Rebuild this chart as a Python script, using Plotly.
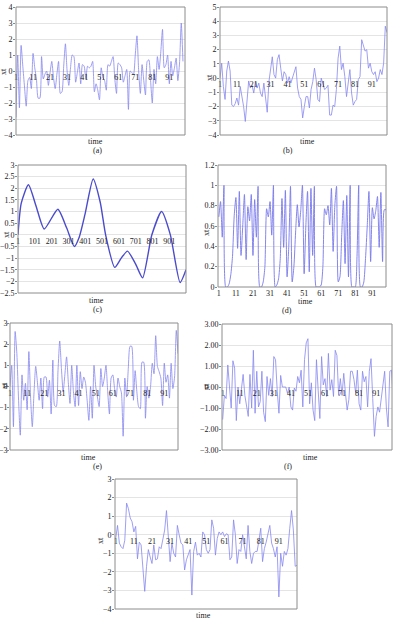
import plotly.graph_objects as go

W, H = 394, 620
FONT = "Liberation Serif, Times New Roman, serif"

# ---------------- data ----------------
A_VALUES = [
    -2.9, 1.0, -2.3, 1.6, 0.3, -1.0, -2.2, -0.6, -0.4,
    -1.1, 1.1, 0.2, -0.5, -1.7, -1.7, 0.9, -0.5, -0.2, 0.0,
    -0.9, -0.1, 0.6, -0.4, -1.1, -0.2, 0.6, -1.4, -1.3, 0.3,
    1.7, 0.0, -0.9, 0.2, 1.0, 0.9, -0.7, -0.1, 0.5, -0.8,
    0.4, 0.3, -0.5, 0.3, 0.2, 0.3, 0.6, -1.3, -0.8, -1.2,
    -1.8, 0.2, -0.4, -0.6, -1.2, 0.4, 0.3, 0.6, 0.9, -0.5,
    -1.4, 0.5, 0.4, 0.2, -0.7, -0.3, 0.1, -2.4, 0.0, -0.1,
    -0.2, 1.0, 2.2, 0.0, -1.4, 0.4, -0.6, -1.5, 0.6, 0.7,
    -0.6, -2.0, 0.1, -0.8, 0.9, 0.1, 1.2, 2.6, 0.2, 0.4,
    1.0, -0.8, 0.6, -0.3, 0.2, 0.8, -0.6, 0.5, 3.0, 0.6,
]
B_VALUES = [
    0.0, 1.05, -0.6, -1.5, 0.5, 1.2, 0.5, -1.9, -2.0, -1.8,
    -1.4, -1.9, -0.6, -1.3, -2.0, -3.05, -1.3, -0.2, -0.7, -0.5,
    -1.05, -0.25, -0.7, -0.35, -1.05, -1.3, -0.35, -1.4, -2.4, -0.25,
    0.6, 1.5, 0.25, 0.0, 1.3, 1.65, 0.7, -0.2, 0.45, 0.25,
    -0.35, 0.1, -0.35, 0.1, 0.5, 0.8, -0.7, -1.3, -1.5, -2.8,
    -2.0, -1.3, -1.3, -2.1, -0.8, -0.25, 0.7, -0.1, -1.5, -1.65,
    0.0, -0.5, -0.8, -0.7, -0.5, -2.6, -2.6, -1.9, -2.0, -0.8,
    1.4, 2.25, 0.6, 1.05, 0.1, -1.3, -0.5, 0.6, -1.05, -1.9,
    -1.65, -1.5, -0.1, 0.1, 2.7, 2.25, 1.9, 2.0, 0.7, 1.05,
    0.45, 0.25, 0.45, -0.25, 0.0, 0.6, 0.25, 1.05, 3.65, 3.2,
]
C_TIME = [1, 20, 63, 110, 157, 238, 290, 336, 365, 400, 448, 490, 522,
          576, 615, 652, 700, 742, 797, 855, 907, 965, 1000]
C_VALUES = [0.0, 1.35, 2.15, 1.2, 0.25, 1.1, 0.3, -0.5, -0.1, 0.9, 2.4, 1.4, 0.0,
            -1.4, -1.0, -0.7, -1.25, -1.85, 0.0, 1.0, 0.0, -2.05, -1.5]
D_VALUES = [
    0.69, 0.84, 0.49, 1.0, 0.0, 0.0, 0.03, 0.12, 0.3, 0.7,
    0.88, 0.38, 0.94, 0.31, 0.6, 0.91, 0.27, 0.79, 0.65, 0.91,
    0.31, 0.86, 0.49, 0.99, 0.0, 0.0, 0.05, 0.2, 0.77, 0.69,
    0.84, 0.51, 1.0, 0.0, 0.02, 0.08, 0.28, 0.87, 0.39, 0.95,
    0.1, 0.4, 0.99, 0.05, 0.2, 0.54, 0.81, 0.59, 0.75, 1.0,
    0.13, 0.6, 0.94, 0.15, 0.97, 0.31, 0.99, 0.0, 0.0, 0.0,
    0.02, 0.2, 0.77, 0.71, 0.8, 0.61, 0.97, 0.35, 0.8, 0.99,
    0.05, 0.1, 0.5, 0.85, 0.23, 0.9, 0.1, 1.0, 0.0, 0.0,
    0.0, 0.3, 1.0, 0.0, 0.0, 0.05, 0.28, 0.6, 0.94, 0.25,
    0.78, 0.67, 0.75, 0.89, 0.39, 0.93, 0.25, 0.76, 0.76,
]
E_VALUES = [
    0.0, 1.0, -1.9, 2.6, 1.55, -0.65, -2.3, 0.55, -0.65, 0.15,
    -1.1, 1.65, -0.5, -1.9, -0.3, 0.95, 0.2, -0.65, 0.4, -1.05,
    0.45, 0.45, -0.5, 0.3, -1.3, 1.25, -0.9, -0.95, 0.75, 2.15,
    0.85, -0.25, 0.55, 1.4, 0.2, -0.8, 1.0, -0.25, -0.95, 1.0,
    -0.9, 0.7, -0.1, 0.45, 0.2, -0.65, -1.6, 0.0, -1.5, 1.0,
    0.0, -0.5, -0.95, 0.85, 0.0, 0.4, 1.0, -0.25, -1.3, 0.4,
    0.55, -0.1, -0.5, 0.4, 0.0, -0.3, -2.35, 0.4, -0.5, 0.85,
    1.9, 1.9, -0.65, 0.75, -0.25, -0.95, -1.05, 1.15, 1.15, -1.5,
    0.0, -0.55, 0.0, 1.1, 0.6, 2.4, 0.95, 0.7, 0.4, -0.9,
    1.1, 0.2, 0.55, -0.55, 1.1, -0.1, 0.45, 2.65, 1.55,
]
F_VALUES = [
    -1.55, -0.4, -0.55, 1.05, 0.0, -1.0, 1.25, 0.9, -1.6, 0.0,
    -0.8, 0.0, 0.6, -0.4, -0.95, -1.4, 0.6, -1.0, 1.75, -1.25,
    0.75, -0.95, -0.7, 0.75, -1.2, -1.65, 0.5, -0.4, 0.4, -0.45,
    1.45, 1.3, -0.2, -1.25, 0.55, 0.0, 0.0, 0.0, -0.3, 0.0,
    -0.95, -1.1, -0.05, -0.2, 0.5, 0.2, 0.8, -0.95, 1.3, 2.1,
    2.3, -0.8, 0.2, -1.1, -1.6, 1.3, -0.15, -1.5, 1.45, 0.1,
    0.4, -0.45, 1.6, -0.15, 0.35, -0.45, 1.75, 1.5, -0.4, 0.4,
    -0.4, 0.65, -0.3, -1.1, -0.6, 0.75, 0.75, 0.35, -0.3, 0.8,
    -0.8, -1.1, 0.75, 0.25, 0.5, -0.95, 0.75, 1.35, -0.55, -2.35,
    -1.4, -0.95, -1.2, -0.6, 0.0, 0.75, -1.0, -1.9, 0.75, 0.8,
    -0.6,
]
G_VALUES = [
    -0.2, 0.5, -0.45, -0.65, -0.75, -0.3, 1.7, 1.4, 0.9, 0.7,
    0.15, 0.45, -1.3, -0.4, -0.55, -1.9, -3.05, -1.7, -0.8, -1.2,
    -1.55, -0.55, -1.35, -1.3, -0.65, -0.75, -0.3, 0.25, 1.3, 0.0,
    -1.45, -0.45, -1.0, -1.2, 0.5, 0.0, -0.45, -0.55, -1.9, -1.35,
    -1.0, -0.8, -3.25, -0.9, -0.4, -1.1, -1.0, -1.2, 0.15, 0.0,
    -0.8, -1.0, -0.8, 0.8, 0.35, -1.1, -0.2, 0.15, 0.0, 0.15,
    -0.1, 0.05, 0.0, -1.35, -1.2, 0.8, 0.0, -1.55, -0.8, -0.9,
    0.0, -0.75, -1.3, 0.5, -0.9, -1.55, -1.0, -0.9, -0.9, -0.3,
    0.35, -1.45, -0.75, -0.4, 0.0, 0.5, -0.45, -0.75, -1.2, -0.65,
    -3.35, -1.0, -1.7, -0.9, -1.1, -0.75, 0.35, 1.3, 0.25, -1.7,
    -1.65,
]
X_TICKS_100 = [1, 11, 21, 31, 41, 51, 61, 71, 81, 91]
X_TICKS_1000 = [1, 101, 201, 301, 401, 501, 601, 701, 801, 901]
PANEL_LABELS = ["(a)", "(b)", "(c)", "(d)", "(e)", "(f)", ""]
X_TITLE = "time"
Y_TITLE = "xt"

LIGHT = "rgb(135,135,240)"
panels = [
    dict(x=None, y=A_VALUES, box=(16, 7, 185, 135), yr=(-4, 4), dt=1, fmt="",
         xr=(1, 100.2), xt=X_TICKS_100, shape="spline", color=LIGHT, w=0.8,
         ytit=(4, 71), xtit=(95, 141), lab=(97, 150), so=-1),
    dict(x=None, y=B_VALUES, box=(220, 7, 387, 135), yr=(-4, 5), dt=1, fmt="",
         xr=(1, 100), xt=X_TICKS_100, shape="linear", color=LIGHT, w=0.8,
         ytit=(210, 78), xtit=(307, 141), lab=(288, 150), so=-1),
    dict(x=C_TIME, y=C_VALUES, box=(18, 165, 186, 293), yr=(-2.5, 3), dt=0.5, fmt="",
         xr=(1, 1000), xt=X_TICKS_1000, shape="spline", color="rgb(75,75,205)", w=1.4,
         ytit=(6, 235), xtit=(96, 300), lab=(97, 309), so=-1),
    dict(x=None, y=D_VALUES, box=(218, 165, 386, 287), yr=(0, 1.2), dt=0.2, fmt="",
         xr=(0.5, 99), xt=X_TICKS_100, shape="spline", color="rgb(120,120,235)", w=0.9,
         ytit=(207, 233), xtit=(305, 301), lab=(287, 310), so=-1),
    dict(x=None, y=E_VALUES, box=(10, 323, 178, 450), yr=(-3, 3), dt=1, fmt="",
         xr=(1, 99), xt=X_TICKS_100, shape="spline", color=LIGHT, w=0.8,
         ytit=(4, 385), xtit=(88, 457), lab=(97, 466), so=-2),
    dict(x=None, y=F_VALUES, box=(222, 324, 392, 450), yr=(-3, 3), dt=1, fmt=".2f",
         xr=(0.6, 100.3), xt=X_TICKS_100, shape="linear", color=LIGHT, w=0.8,
         ytit=(206, 387), xtit=(310, 457), lab=(288, 466), so=-1),
    dict(x=None, y=G_VALUES, box=(115, 479, 297, 609), yr=(-4, 3), dt=1, fmt="",
         xr=(0.6, 101), xt=X_TICKS_100, shape="linear", color=LIGHT, w=0.8,
         ytit=(100, 541), xtit=(203, 615), lab=(0, 0), so=-1),
]


def fx(px):
    return px / W


def fy(py):
    return 1 - py / H


fig = go.Figure()
layout = dict(
    width=W, height=H, margin=dict(l=0, r=0, t=0, b=0),
    paper_bgcolor="white", plot_bgcolor="white", showlegend=False,
    font=dict(family=FONT, size=8, color="#222"),
)
shapes = []
annotations = []
for i, p in enumerate(panels):
    n = i + 1
    xa = "x" if n == 1 else f"x{n}"
    ya = "y" if n == 1 else f"y{n}"
    xs = p["x"] if p["x"] is not None else list(range(1, len(p["y"]) + 1))
    line = dict(color=p["color"], width=p["w"], shape=p["shape"])
    if p["shape"] == "spline":
        line["smoothing"] = 0.6
    fig.add_trace(go.Scatter(x=xs, y=p["y"], mode="lines", line=line,
                             xaxis=xa, yaxis=ya, hoverinfo="skip"))
    x0, y0, x1, y1 = p["box"]
    ymin, ymax = p["yr"]
    ydom = [fy(y1), fy(y0)]
    pos = ydom[0] + (0 - ymin) / (ymax - ymin) * (ydom[1] - ydom[0])
    nt = int(round((ymax - ymin) / p["dt"]))
    yticks = [round(ymin + k * p["dt"], 4) for k in range(nt + 1)]
    layout["xaxis" if n == 1 else f"xaxis{n}"] = dict(
        domain=[fx(x0), fx(x1)], range=list(p["xr"]), anchor="free", position=pos,
        tickmode="array", tickvals=p["xt"], ticktext=[str(t) for t in p["xt"]],
        showgrid=False, zeroline=False, showline=False, ticks="",
        tickfont=dict(family=FONT, size=8, color="#222"), automargin=False,
        fixedrange=True,
    )
    layout["yaxis" if n == 1 else f"yaxis{n}"] = dict(
        domain=ydom, range=[ymin, ymax], anchor=xa,
        tickmode="array", tickvals=yticks, tickformat=p["fmt"] or None,
        showgrid=True, gridcolor="#e4e4e4", gridwidth=1, zeroline=False,
        showline=False, ticks="outside", ticklen=2, tickcolor="#888",
        ticklabelstandoff=p["so"],
        tickfont=dict(family=FONT, size=8, color="#222"), automargin=False,
        fixedrange=True,
    )
    shapes.append(dict(type="rect", xref=f"{xa} domain", yref=f"{ya} domain",
                       x0=0, x1=1, y0=0, y1=1, line=dict(color="#8c8c8c", width=1),
                       fillcolor="rgba(0,0,0,0)", layer="above"))
    annotations.append(dict(text=Y_TITLE, x=fx(p["ytit"][0]), y=fy(p["ytit"][1]),
                            xref="paper", yref="paper", showarrow=False, textangle=-90,
                            font=dict(family=FONT, size=8, color="#222"),
                            xanchor="center", yanchor="middle"))
    annotations.append(dict(text=X_TITLE, x=fx(p["xtit"][0]), y=fy(p["xtit"][1]),
                            xref="paper", yref="paper", showarrow=False,
                            font=dict(family=FONT, size=8, color="#222"),
                            xanchor="center", yanchor="middle"))
    if PANEL_LABELS[i]:
        annotations.append(dict(text=PANEL_LABELS[i], x=fx(p["lab"][0]), y=fy(p["lab"][1]),
                                xref="paper", yref="paper", showarrow=False,
                                font=dict(family=FONT, size=8, color="#222"),
                                xanchor="center", yanchor="middle"))

layout["shapes"] = shapes
layout["annotations"] = annotations
fig.update_layout(**layout)
fig.write_html("out.html", config={"displayModeBar": False})
